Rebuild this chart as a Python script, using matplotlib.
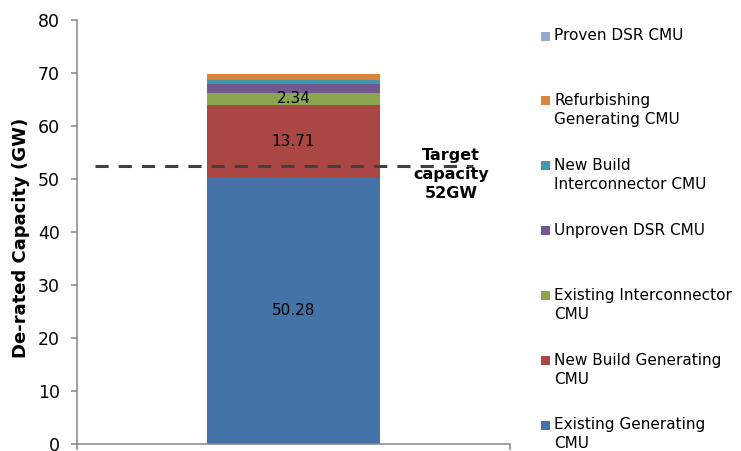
import matplotlib
matplotlib.use("Agg")
import matplotlib.pyplot as plt
from matplotlib.patches import Rectangle

# ---- data ----
categories = [""]
series_names = [
    "Existing Generating\nCMU",
    "New Build Generating\nCMU",
    "Existing Interconnector\nCMU",
    "Unproven DSR CMU",
    "New Build\nInterconnector CMU",
    "Refurbishing\nGenerating CMU",
    "Proven DSR CMU",
]
series_values = [50.28, 13.71, 2.34, 1.65, 0.76, 1.00, 0.15]
shown_labels = ["50.28", "13.71", "2.34", "", "", "", ""]
colors = ["#4572A7", "#AA4643", "#89A54E", "#71588F", "#4198AF", "#DB843D", "#93A9CF"]
target_value = 52.5
target_text = "Target\ncapacity\n52GW"
y_ticks = [0, 10, 20, 30, 40, 50, 60, 70, 80]
y_label = "De-rated Capacity (GW)"

plt.rcParams["font.family"] = ["DejaVu Sans"]

W, H = 741, 451
fig = plt.figure(figsize=(W / 100, H / 100), dpi=100)
ax = fig.add_axes([77 / W, (H - 444.3) / H, 433 / W, 424.3 / H])

bottom = 0.0
for name, val, col, lab in zip(series_names, series_values, colors, shown_labels):
    bars = ax.bar([0], [val], width=0.4, bottom=bottom, color=col, label=name, zorder=2)
    if lab:
        ax.bar_label(bars, labels=[lab], label_type="center", fontsize=11, color="black")
    bottom += val

ax.plot([-0.458, 0.4145], [target_value, target_value], color="#404040", lw=2.2,
        dashes=(4.3, 3.3), zorder=5, clip_on=False)
ax.text(0.364, 50.9, target_text, ha="center", va="center", fontsize=11.5,
        fontweight="bold", linespacing=1.32, zorder=6)

ax.set_xlim(-0.5, 0.5)
ax.set_ylim(0, 80)
ax.set_yticks(y_ticks)
ax.set_xticks([-0.5, 0.5])
ax.set_xticklabels(["", ""])
ax.tick_params(axis="y", direction="out", length=4, width=1.1, color="#868686",
               labelsize=12.5, pad=8.5)
ax.tick_params(axis="x", direction="out", length=4, width=1.1, color="#868686")
for s in ["top", "right"]:
    ax.spines[s].set_visible(False)
for s in ["left", "bottom"]:
    ax.spines[s].set_color("#868686")
    ax.spines[s].set_linewidth(1.1)

yl = ax.set_ylabel(y_label, fontsize=13, fontweight="bold")
yl.set_va("center")
ax.yaxis.set_label_coords(-0.129, 0.487)

# ---- manual legend (top entry = last stacked series) ----
first_line_px = [36, 100.8, 165.6, 230.5, 295.3, 360.1, 425]
for i, idx in enumerate(range(len(series_names) - 1, -1, -1)):
    yc = first_line_px[i]
    fig.patches.append(Rectangle((541 / W, 1 - (yc + 4.5) / H), 9 / W, 9 / H,
                                 transform=fig.transFigure, facecolor=colors[idx],
                                 edgecolor="none"))
    for j, line in enumerate(series_names[idx].split("\n")):
        fig.text(554 / W, 1 - (yc + j * 19) / H, line, ha="left", va="center",
                 fontsize=11)

fig.savefig("out.png", dpi=100)
